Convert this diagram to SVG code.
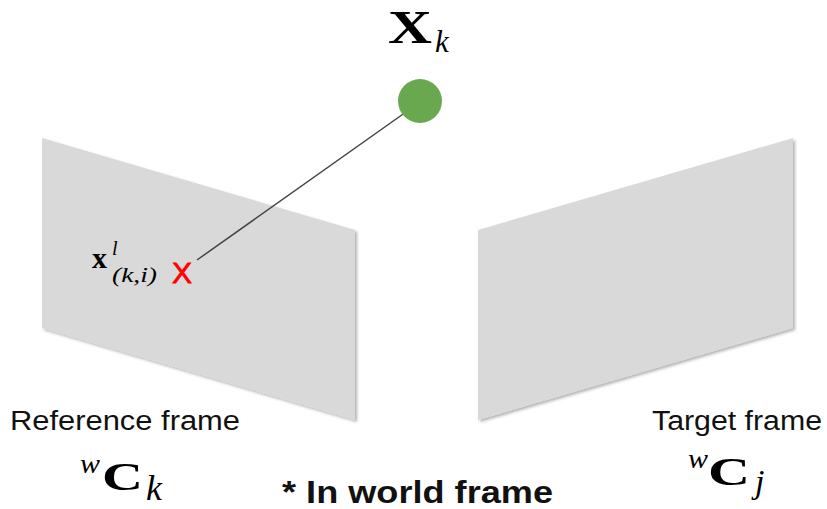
<svg xmlns="http://www.w3.org/2000/svg" width="827" height="509" viewBox="0 0 827 509">
<defs>
<filter id="sh" x="-10%" y="-10%" width="120%" height="120%">
<feDropShadow dx="2" dy="2" stdDeviation="1.5" flood-color="#000" flood-opacity="0.3"/>
</filter>
</defs>
<style>
.plane{fill:#d9d9d9;filter:url(#sh)}
.lbl{font-family:"Liberation Sans",Arial,sans-serif;fill:#111}
.m{font-family:"Liberation Serif","Times New Roman",serif;fill:#000}
.b{font-weight:bold}
.i{font-style:italic}
</style>
<rect width="827" height="509" fill="#fff"/>
<g id="ref-plane"><polygon class="plane" points="42,138 355,230 355,420 42,328"/></g>
<g id="tgt-plane"><polygon class="plane" points="478,230 793,138 793,328 478,420"/></g>
<g id="connectors"><line x1="406" y1="112" x2="197" y2="260" stroke="#444" stroke-width="1.5"/></g>
<g id="point-Xk">
<circle cx="420" cy="101" r="22" fill="#6aa84f"/>
<text class="m b" x="388" y="43" font-size="46" textLength="44" lengthAdjust="spacingAndGlyphs">X</text>
<text class="m i" x="435" y="52" font-size="31">k</text>
</g>
<g id="projection">
<text class="m b" x="92" y="268" font-size="30">x</text>
<text class="m i" x="112" y="255" font-size="20">l</text>
<text class="m i" x="112" y="282" font-size="22" textLength="45" lengthAdjust="spacingAndGlyphs">(k,i)</text>
<text x="172" y="283" font-family="Liberation Sans,Arial,sans-serif" font-size="30" fill="#ff0000" stroke="#ff0000" stroke-width="0.8">X</text>
</g>
<g id="ref-label">
<text class="lbl" x="10" y="430" font-size="27" textLength="230" lengthAdjust="spacingAndGlyphs">Reference frame</text>
<text class="m i" x="80" y="473" font-size="28" textLength="20" lengthAdjust="spacingAndGlyphs">w</text>
<text class="m b" x="102" y="490" font-size="41" textLength="41" lengthAdjust="spacingAndGlyphs">C</text>
<text class="m i" x="146" y="500" font-size="36">k</text>
</g>
<g id="tgt-label">
<text class="lbl" x="652" y="430" font-size="27" textLength="170" lengthAdjust="spacingAndGlyphs">Target frame</text>
<text class="m i" x="688" y="468" font-size="28" textLength="20" lengthAdjust="spacingAndGlyphs">w</text>
<text class="m b" x="708" y="485" font-size="41" textLength="42" lengthAdjust="spacingAndGlyphs">C</text>
<text class="m i" x="755" y="493" font-size="34">j</text>
</g>
<g id="note">
<text class="lbl b" x="282" y="503" font-size="31" textLength="271" lengthAdjust="spacingAndGlyphs" fill="#000">* In world frame</text>
</g>
</svg>
